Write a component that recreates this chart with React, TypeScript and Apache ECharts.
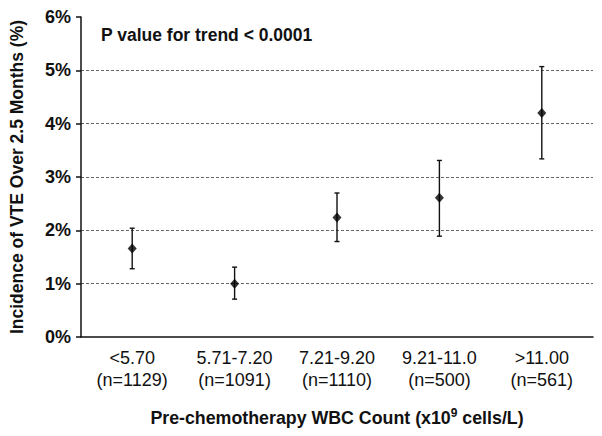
import React, { useEffect, useRef } from "react";
import * as echarts from "echarts";

const categories = ["<5.70\n(n=1129)", "5.71-7.20\n(n=1091)", "7.21-9.20\n(n=1110)", "9.21-11.0\n(n=500)", ">11.00\n(n=561)"];
const incidence = [1.66, 1.0, 2.24, 2.61, 4.2];
const lowerCI = [1.28, 0.71, 1.79, 1.89, 3.34];
const upperCI = [2.04, 1.31, 2.7, 3.31, 5.07];
const yTicks = [0, 1, 2, 3, 4, 5, 6];

export default function App() {
  const ref = useRef<HTMLDivElement>(null);
  useEffect(() => {
    if (!ref.current) return;
    const chart = echarts.init(ref.current, null, { renderer: "svg" });
    const font = "Liberation Sans, Arial, sans-serif";
    chart.setOption({
      animation: false,
      backgroundColor: "#fff",
      grid: { left: 81, right: 9, top: 17, bottom: 99 },
      graphic: [
        {
          type: "text",
          left: 101,
          top: 26,
          style: { text: "P value for trend < 0.0001", font: `bold 17.5px ${font}`, fill: "#111" },
        },
      ],
      xAxis: {
        type: "category",
        data: categories,
        axisLine: { lineStyle: { color: "#111", width: 1.5 } },
        axisTick: { show: false },
        axisLabel: { color: "#111", fontSize: 18, fontFamily: font, lineHeight: 22, margin: 10 },
        name: "{b|Pre-chemotherapy WBC Count (x10}{s|9}{b| cells/L)}",
        nameLocation: "middle",
        nameGap: 70,
        nameTextStyle: {
          rich: {
            b: { fontSize: 17.8, fontWeight: "bold", fontFamily: font, color: "#111" },
            s: { fontSize: 12, fontWeight: "bold", fontFamily: font, color: "#111", verticalAlign: "bottom", padding: [0, 0, 9, 0] },
          },
        },
      },
      yAxis: {
        type: "value",
        min: yTicks[0],
        max: yTicks[yTicks.length - 1],
        interval: 1,
        axisLine: { show: true, lineStyle: { color: "#111", width: 1.5 } },
        axisTick: { show: true, length: 5, lineStyle: { color: "#111", width: 1.5 } },
        axisLabel: { color: "#111", fontSize: 18, fontWeight: "bold", fontFamily: font, formatter: "{value}%", margin: 10 },
        splitLine: { show: true, showMaxLine: false, showMinLine: false, lineStyle: { color: "#666", type: [3, 2], width: 1 } },
        name: "Incidence of VTE Over 2.5 Months (%)",
        nameLocation: "middle",
        nameGap: 55,
        nameRotate: 90,
        nameTextStyle: { fontSize: 17.5, fontWeight: "bold", fontFamily: font, color: "#111" },
      },
      series: [
        {
          type: "custom",
          data: categories.map((_, i) => [i, lowerCI[i], upperCI[i]]),
          encode: { x: 0, y: [1, 2] },
          z: 2,
          renderItem: (params: any, api: any) => {
            const x = api.value(0);
            const lo = api.coord([x, api.value(1)]);
            const hi = api.coord([x, api.value(2)]);
            const hw = 2.5;
            const st = { stroke: "#111", lineWidth: 1.4 };
            return {
              type: "group",
              children: [
                { type: "line", shape: { x1: hi[0], y1: hi[1], x2: lo[0], y2: lo[1] }, style: st },
                { type: "line", shape: { x1: hi[0] - hw, y1: hi[1], x2: hi[0] + hw, y2: hi[1] }, style: st },
                { type: "line", shape: { x1: lo[0] - hw, y1: lo[1], x2: lo[0] + hw, y2: lo[1] }, style: st },
              ],
            };
          },
        },
        {
          type: "scatter",
          data: incidence,
          symbol: "diamond",
          symbolSize: [9, 10],
          itemStyle: { color: "#000" },
          z: 3,
        },
      ],
    });
    return () => chart.dispose();
  }, []);
  return <div ref={ref} style={{ width: 602, height: 436, position: "absolute", left: 0, top: 0 }} />;
}
